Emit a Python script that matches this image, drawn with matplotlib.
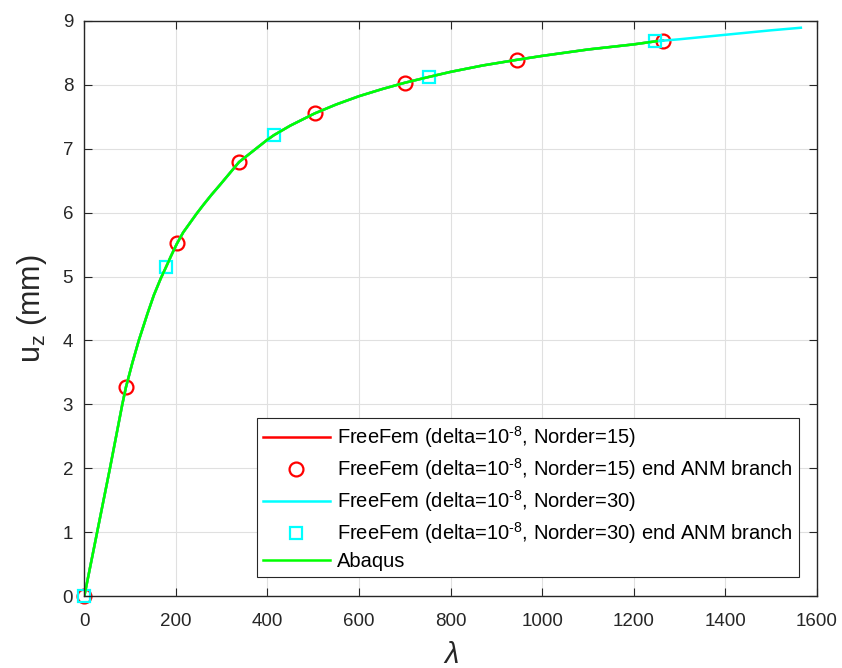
import numpy as np
from matplotlib import pyplot as plt

plt.switch_backend('agg')
plt.rcParams['font.family'] = ['Liberation Sans', 'DejaVu Sans']
plt.rcParams['mathtext.fontset'] = 'custom'
plt.rcParams['mathtext.rm'] = 'Liberation Sans'
plt.rcParams['mathtext.it'] = 'Liberation Sans:italic'
plt.rcParams['mathtext.bf'] = 'Liberation Sans:bold'

# Abaqus reference curve
lam_abaqus = [0, 28, 56, 83, 91, 105, 119, 138, 152, 167, 178, 190, 202, 216,
              231, 245, 260, 278, 296, 317, 338, 400, 414, 450, 503, 550, 600,
              650, 700, 752, 800, 870, 946, 1000, 1100, 1200, 1250]
u_abaqus = [0, 1.0, 2.0, 3.0, 3.27, 3.65, 4.0, 4.42, 4.71, 4.97, 5.14, 5.33,
            5.51, 5.69, 5.84, 5.98, 6.12, 6.28, 6.43, 6.61, 6.79, 7.14, 7.21,
            7.36, 7.55, 7.69, 7.82, 7.93, 8.03, 8.12, 8.20, 8.30, 8.39, 8.45,
            8.55, 8.63, 8.68]

# FreeFem, Norder=15
lam_ff15 = lam_abaqus + [1264]
u_ff15 = u_abaqus + [8.69]
lam_ff15_end = [0, 91, 202, 338, 503, 700, 946, 1264]
u_ff15_end = [0, 3.27, 5.52, 6.79, 7.55, 8.03, 8.39, 8.69]

# FreeFem, Norder=30
lam_ff30 = lam_abaqus + [1300, 1400, 1500, 1565]
u_ff30 = u_abaqus + [8.71, 8.78, 8.85, 8.89]
lam_ff30_end = [0, 178, 414, 752, 1247]
u_ff30_end = [0, 5.15, 7.21, 8.12, 8.68]

xticks = np.arange(0, 1601, 200)
yticks = np.arange(0, 10, 1)

dark = (0.15, 0.15, 0.15)
sup = r'$^{\text{-8}}$'

fig = plt.figure(figsize=(8.42, 6.68), dpi=100)
ax = fig.add_axes([0.1001, 0.1073, 0.8701, 0.8617])

ax.plot(lam_ff15, u_ff15, '-', color=(1, 0, 0), lw=1.8,
        label='FreeFem (delta=10' + sup + ', Norder=15)')
ax.plot(lam_ff15_end, u_ff15_end, 'o', color=(1, 0, 0), mfc='none',
        ms=10, mew=1.6, clip_on=False,
        label='FreeFem (delta=10' + sup + ', Norder=15) end ANM branch')
ax.plot(lam_ff30, u_ff30, '-', color=(0, 1, 1), lw=1.8,
        label='FreeFem (delta=10' + sup + ', Norder=30)')
ax.plot(lam_ff30_end, u_ff30_end, 's', color=(0, 1, 1), mfc='none',
        ms=8.5, mew=1.6, clip_on=False,
        label='FreeFem (delta=10' + sup + ', Norder=30) end ANM branch')
ax.plot(lam_abaqus, u_abaqus, '-', color=(0, 1, 0), lw=1.8, label='Abaqus')

ax.set_xlim(0, 1600)
ax.set_ylim(0, 9)
ax.set_xticks(xticks)
ax.set_yticks(yticks)
ax.grid(True, color=(0.88, 0.88, 0.88), lw=0.8)
ax.set_axisbelow(True)

for s in ax.spines.values():
    s.set_color(dark)
    s.set_linewidth(1.0)
ax.tick_params(direction='in', top=True, right=True, length=6, width=0.8,
               colors=dark, labelsize=13.5)
ax.tick_params(axis='x', pad=12)
ax.tick_params(axis='y', pad=8)

ax.set_xlabel(r'$\lambda$', fontsize=21, color=dark, labelpad=8)
ax.set_ylabel(r'u$_{\mathrm{z}}$ (mm)', fontsize=22, color=dark, labelpad=10)

leg = ax.legend(loc='lower right', bbox_to_anchor=(0.975, 0.0335),
                borderaxespad=0, fontsize=14.5, handlelength=3.3,
                handletextpad=0.35, borderpad=0.3, labelspacing=0.3,
                fancybox=False, framealpha=1, edgecolor=dark)
leg.get_frame().set_linewidth(0.8)
for t in leg.get_texts():
    t.set_color('black')

fig.savefig('out.png', dpi=100)
